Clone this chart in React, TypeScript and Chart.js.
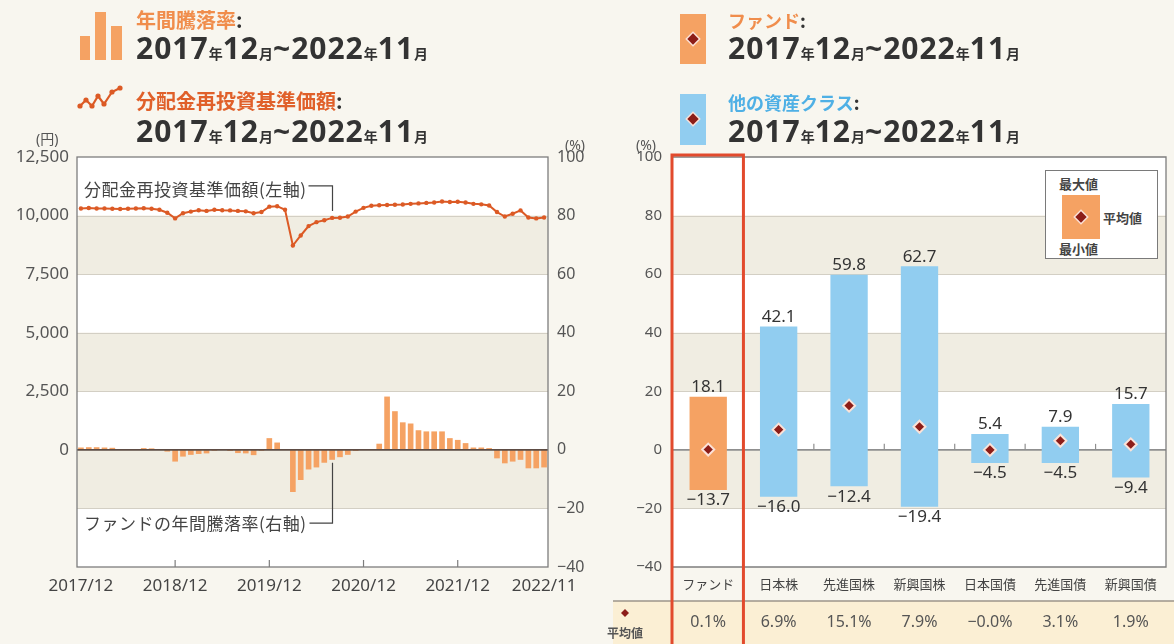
import React, { useEffect, useRef } from 'react';
import { Chart, registerables } from 'chart.js';
Chart.register(...registerables);

const FONT = "'Noto Sans', 'Noto Sans CJK JP', sans-serif";
const JP = "'Noto Sans CJK JP', 'Noto Sans', sans-serif";
const BG = '#f8f6ef';
const BEIGE = '#f0ede2';
const ORANGE = '#f5a263';
const BLUE = '#91cdf0';
const RED_LINE = '#dc5a25';

// ---------- left chart data ----------
const monthLabels: string[] = (() => {
  const out: string[] = [];
  let y = 2017, m = 12;
  for (let i = 0; i < 60; i++) {
    out.push(`${y}/${m}`);
    m++;
    if (m > 12) { m = 1; y++; }
  }
  return out;
})();
const xTickLabels = ['2017/12', '2018/12', '2019/12', '2020/12', '2021/12', '2022/11'];
const xTickMarks = ['2018/12', '2019/12', '2020/12', '2021/12'];

// 分配金再投資基準価額 (円)
const navValues = [
  10300, 10320, 10300, 10300, 10290, 10280, 10290, 10300, 10310, 10290,
  10250, 10120, 9880, 10100, 10170, 10230, 10200, 10250, 10230, 10220,
  10200, 10180, 10100, 10150, 10380, 10400, 10250, 8720, 9150, 9550,
  9720, 9800, 9900, 9910, 9960, 10170, 10330, 10420, 10440, 10450,
  10460, 10470, 10500, 10520, 10540, 10560, 10600, 10580, 10590, 10560,
  10500, 10480, 10430, 10150, 9960, 10080, 10220, 9920, 9880, 9920,
];
// 年間騰落率 (%)
const returnValues = [
  0.8, 0.9, 0.9, 0.8, 0.7, 0.1, 0.1, 0.2, 0.6, 0.5,
  0.1, -0.6, -4.0, -2.3, -1.7, -1.4, -1.2, -0.3, 0.1, -0.4,
  -1.1, -1.2, -1.8, -0.3, 4.0, 2.5, 0.3, -14.4, -10.3, -6.7,
  -6.0, -4.4, -3.4, -2.5, -1.7, -0.4, 0.1, 0.3, 2.1, 18.2,
  13.2, 9.4, 9.0, 6.7, 6.3, 6.3, 6.3, 4.0, 3.4, 2.3,
  0.8, 0.8, 0.6, -2.9, -4.6, -4.0, -3.4, -6.3, -6.3, -6.0,
];
const leftTickYen = { min: -5000, max: 12500, step: 2500 };
const pctTicks = { min: -40, max: 100, step: 20 };
const beigeBandTops = [80, 40, 0];

const navNote = '分配金再投資基準価額(左軸)';
const retNote = 'ファンドの年間騰落率(右軸)';
const noteIndex = 32;

// ---------- right chart data ----------
const assetClasses = ['ファンド', '日本株', '先進国株', '新興国株', '日本国債', '先進国債', '新興国債'];
const maxValues = [18.1, 42.1, 59.8, 62.7, 5.4, 7.9, 15.7];
const minValues = [-13.7, -16.0, -12.4, -19.4, -4.5, -4.5, -9.4];
const avgValues = [0.1, 6.9, 15.1, 7.9, -0.02, 3.1, 1.9];

const fmt1 = (v: number) => (v < 0 ? '−' : '') + Math.abs(v).toFixed(1);

function drawBands(ctx: CanvasRenderingContext2D, a: any, y: any) {
  for (let v = pctTicks.max; v > pctTicks.min; v -= pctTicks.step) {
    const top = y.getPixelForValue(v);
    const bot = y.getPixelForValue(v - pctTicks.step);
    ctx.fillStyle = beigeBandTops.includes(v) ? BEIGE : '#ffffff';
    ctx.fillRect(a.left, top, a.right - a.left, bot - top);
  }
  ctx.strokeStyle = '#d3cfc4';
  ctx.lineWidth = 1;
  for (let v = pctTicks.max - pctTicks.step; v > pctTicks.min; v -= pctTicks.step) {
    if (v === 0) continue;
    const p = Math.round(y.getPixelForValue(v)) + 0.5;
    ctx.beginPath();
    ctx.moveTo(a.left, p);
    ctx.lineTo(a.right, p);
    ctx.stroke();
  }
}

const leftPlugin = {
  id: 'leftDeco',
  beforeDatasetsDraw(chart: any) {
    const { ctx, chartArea: a, scales } = chart;
    ctx.save();
    drawBands(ctx, a, scales.yR);
    ctx.restore();
  },
  afterDatasetsDraw(chart: any) {
    const { ctx, chartArea: a, scales } = chart;
    const x = scales.x, yR = scales.yR, yL = scales.yL;
    ctx.save();
    // zero line
    const z = yR.getPixelForValue(0);
    ctx.strokeStyle = '#5d4c44';
    ctx.lineWidth = 1.6;
    ctx.beginPath();
    ctx.moveTo(a.left, z);
    ctx.lineTo(a.right, z);
    ctx.stroke();
    // frame
    ctx.strokeStyle = '#7d7d7d';
    ctx.lineWidth = 1.3;
    ctx.strokeRect(a.left, a.top, a.right - a.left, a.bottom - a.top);
    // bottom tick marks
    ctx.lineWidth = 1.2;
    xTickMarks.forEach((lab) => {
      const px = x.getPixelForValue(monthLabels.indexOf(lab));
      ctx.beginPath();
      ctx.moveTo(px, a.bottom);
      ctx.lineTo(px, a.bottom - 7);
      ctx.stroke();
    });
    // annotations
    const cx = Math.round(x.getPixelForValue(noteIndex)) + 0.5;
    ctx.font = `17px ${JP}`;
    (ctx as any).letterSpacing = '0.5px';
    ctx.fillStyle = '#444';
    ctx.textBaseline = 'middle';
    ctx.textAlign = 'left';
    ctx.strokeStyle = '#444';
    ctx.lineWidth = 1.2;
    const ty1 = yL.getPixelForValue(11100);
    ctx.fillText(navNote, a.left + 7, ty1);
    const w1 = ctx.measureText(navNote).width;
    ctx.beginPath();
    ctx.moveTo(a.left + 7 + w1 + 2, ty1 - 4);
    ctx.lineTo(cx, ty1 - 4);
    ctx.lineTo(cx, yL.getPixelForValue(navValues[noteIndex]) - 7);
    ctx.stroke();
    const ty2 = yR.getPixelForValue(-25);
    ctx.fillText(retNote, a.left + 7, ty2);
    const w2 = ctx.measureText(retNote).width;
    ctx.beginPath();
    ctx.moveTo(a.left + 7 + w2 + 3, ty2);
    ctx.lineTo(cx, ty2);
    ctx.lineTo(cx, yR.getPixelForValue(returnValues[noteIndex]) + 3);
    ctx.stroke();
    ctx.restore();
  },
};

const rightPlugin = {
  id: 'rightDeco',
  beforeDatasetsDraw(chart: any) {
    const { ctx, chartArea: a, scales } = chart;
    const y = scales.y, x = scales.x;
    ctx.save();
    drawBands(ctx, a, y);
    const z = y.getPixelForValue(0);
    ctx.strokeStyle = '#8f8f8f';
    ctx.lineWidth = 1.8;
    ctx.beginPath();
    ctx.moveTo(a.left, z);
    ctx.lineTo(a.right, z);
    ctx.stroke();
    // boundary ticks on the zero line
    const half = (x.getPixelForValue(1) - x.getPixelForValue(0)) / 2;
    ctx.lineWidth = 1.2;
    for (let i = 1; i < assetClasses.length; i++) {
      const px = x.getPixelForValue(i) - half;
      ctx.beginPath();
      ctx.moveTo(px, z);
      ctx.lineTo(px, z - 6);
      ctx.stroke();
    }
    // frame (top, right, bottom)
    ctx.strokeStyle = '#7d7d7d';
    ctx.lineWidth = 1.3;
    ctx.beginPath();
    ctx.moveTo(a.left, a.top);
    ctx.lineTo(a.right, a.top);
    ctx.lineTo(a.right, a.bottom);
    ctx.lineTo(a.left, a.bottom);
    ctx.stroke();
    ctx.restore();
  },
  afterDatasetsDraw(chart: any) {
    const { ctx, chartArea: a, scales, width, height } = chart;
    const y = scales.y, x = scales.x;
    ctx.save();
    // value labels
    ctx.font = `17px ${FONT}`;
    ctx.fillStyle = '#333';
    ctx.textAlign = 'center';
    assetClasses.forEach((_, i) => {
      const px = x.getPixelForValue(i);
      ctx.textBaseline = 'bottom';
      ctx.fillText(fmt1(maxValues[i]), px, y.getPixelForValue(maxValues[i]) - 1);
      ctx.textBaseline = 'top';
      ctx.fillText(fmt1(minValues[i]), px, y.getPixelForValue(minValues[i]) + 2);
    });
    // table row
    const sepY = 601;
    ctx.fillStyle = '#fbefd4';
    ctx.fillRect(13, sepY, width - 13, height - sepY);
    ctx.strokeStyle = '#9c958a';
    ctx.lineWidth = 1.3;
    ctx.beginPath();
    ctx.moveTo(13, sepY);
    ctx.lineTo(width, sepY);
    ctx.stroke();
    ctx.fillStyle = '#555';
    ctx.font = `16px ${FONT}`;
    ctx.textBaseline = 'middle';
    assetClasses.forEach((_, i) => {
      ctx.fillText(fmt1(avgValues[i]) + '%', x.getPixelForValue(i), 622);
    });
    // small diamond + label
    ctx.fillStyle = '#8c1d18';
    ctx.beginPath();
    ctx.moveTo(25, 609);
    ctx.lineTo(29, 613);
    ctx.lineTo(25, 617);
    ctx.lineTo(21, 613);
    ctx.closePath();
    ctx.fill();
    ctx.fillStyle = '#555';
    ctx.font = `bold 12px ${JP}`;
    ctx.fillText('平均値', 25, 633);
    // red highlight box
    const half = (x.getPixelForValue(1) - x.getPixelForValue(0)) / 2;
    ctx.strokeStyle = '#e24a2d';
    ctx.lineWidth = 3;
    ctx.strokeRect(a.left - 1, a.top - 2, x.getPixelForValue(0) + half - a.left + 1, height + 10);
    ctx.restore();
  },
};

function LeftChart() {
  const ref = useRef<HTMLCanvasElement>(null);
  useEffect(() => {
    const chart = new Chart(ref.current as HTMLCanvasElement, {
      type: 'bar',
      data: {
        labels: monthLabels,
        datasets: [
          {
            type: 'line', data: navValues, yAxisID: 'yL', borderColor: RED_LINE,
            backgroundColor: RED_LINE, borderWidth: 2, pointRadius: 2.2, pointBorderWidth: 0,
            pointBackgroundColor: RED_LINE, tension: 0, order: 0,
          } as any,
          {
            type: 'bar', data: returnValues, yAxisID: 'yR', backgroundColor: ORANGE,
            barPercentage: 0.72, categoryPercentage: 1, order: 1,
          } as any,
        ],
      },
      options: {
        responsive: false, animation: false, devicePixelRatio: 1,
        layout: { padding: { top: 157, left: 0, right: 0, bottom: 0 } },
        plugins: { legend: { display: false }, tooltip: { enabled: false } },
        scales: {
          x: {
            offset: true, grid: { display: false, drawTicks: false }, border: { display: false },
            ticks: {
              autoSkip: false, maxRotation: 0, padding: 9, color: '#444',
              font: { size: 17, family: FONT },
              callback: (_v: any, i: number) => (xTickLabels.includes(monthLabels[i]) ? monthLabels[i] : ''),
            },
            afterFit: (s: any) => { s.height = 77; },
          },
          yL: {
            position: 'left', min: leftTickYen.min, max: leftTickYen.max,
            grid: { display: false, drawTicks: false }, border: { display: false },
            ticks: {
              stepSize: leftTickYen.step, padding: 8, color: '#555', font: { size: 17, family: FONT },
              callback: (v: any) => (v < 0 ? '' : Number(v).toLocaleString('en-US')),
            },
            afterFit: (s: any) => { s.width = 77; },
          },
          yR: {
            position: 'right', min: pctTicks.min, max: pctTicks.max,
            grid: { display: false, drawTicks: false }, border: { display: false },
            ticks: {
              stepSize: pctTicks.step, padding: 9, color: '#555', font: { size: 16, family: FONT },
              callback: (v: any) => (v < 0 ? '−' + Math.abs(v) : String(v)),
            },
            afterFit: (s: any) => { s.width = 52; },
          },
        },
      } as any,
      plugins: [leftPlugin],
    });
    return () => chart.destroy();
  }, []);
  return <canvas ref={ref} width={600} height={644} style={{ position: 'absolute', left: 0, top: 0, width: 600, height: 644 }} />;
}

function RightChart() {
  const ref = useRef<HTMLCanvasElement>(null);
  useEffect(() => {
    const chart = new Chart(ref.current as HTMLCanvasElement, {
      type: 'bar',
      data: {
        labels: assetClasses,
        datasets: [
          {
            type: 'line', data: avgValues, showLine: false, pointStyle: 'rectRot', pointRadius: 6,
            pointBackgroundColor: '#8c1d18', pointBorderColor: '#fbe2d8', pointBorderWidth: 2, order: 0,
          } as any,
          {
            type: 'bar', data: assetClasses.map((_, i) => [minValues[i], maxValues[i]]),
            backgroundColor: assetClasses.map((_, i) => (i === 0 ? ORANGE : BLUE)),
            barPercentage: 0.53, categoryPercentage: 1, order: 1,
          } as any,
        ],
      },
      options: {
        responsive: false, animation: false, devicePixelRatio: 1,
        layout: { padding: { top: 157, left: 0, right: 2, bottom: 0 } },
        plugins: { legend: { display: false }, tooltip: { enabled: false } },
        scales: {
          x: {
            offset: true, grid: { display: false, drawTicks: false }, border: { display: false },
            ticks: { autoSkip: false, maxRotation: 0, padding: 9, color: '#444', font: { size: 13, family: JP } },
            afterFit: (s: any) => { s.height = 77; },
          },
          y: {
            position: 'left', min: pctTicks.min, max: pctTicks.max,
            grid: { display: false, drawTicks: false }, border: { display: false },
            ticks: {
              stepSize: pctTicks.step, padding: 11, color: '#555', font: { size: 15, family: FONT },
              callback: (v: any) => (v < 0 ? '−' + Math.abs(v) : String(v)),
            },
            afterFit: (s: any) => { s.width = 73; },
          },
        },
      } as any,
      plugins: [rightPlugin],
    });
    return () => chart.destroy();
  }, []);
  return <canvas ref={ref} width={574} height={644} style={{ position: 'absolute', left: 600, top: 0, width: 574, height: 644 }} />;
}

const periodParts: [string, boolean][] = [
  ['2017', true], ['年', false], ['12', true], ['月', false], ['~2022', true], ['年', false], ['11', true], ['月', false],
];

function DateLine({ left, top }: { left: number; top: number }) {
  return (
    <div style={{ position: 'absolute', left, top, fontFamily: FONT, fontWeight: 700, color: '#333', whiteSpace: 'nowrap', lineHeight: 1 }}>
      {periodParts.map(([t, big], i) => (
        <span key={i} style={{ fontSize: big ? 30 : 14, fontFamily: big ? FONT : JP, letterSpacing: big ? 1 : 0 }}>{t}</span>
      ))}
    </div>
  );
}

function Title({ left, top, color, text, size }: { left: number; top: number; color: string; text: string; size: number }) {
  return (
    <div style={{ position: 'absolute', left, top, fontFamily: JP, fontWeight: 700, fontSize: size, color, lineHeight: 1, whiteSpace: 'nowrap' }}>
      {text}<span style={{ color: '#333' }}>:</span>
    </div>
  );
}

function Diamond({ cx, cy, size }: { cx: number; cy: number; size: number }) {
  return (
    <div style={{
      position: 'absolute', left: cx - size / 2, top: cy - size / 2, width: size, height: size,
      background: '#8c1d18', transform: 'rotate(45deg)', boxShadow: '0 0 0 1.5px #fbe2d8',
    }} />
  );
}

export default function App() {
  const small = { position: 'absolute' as const, fontFamily: FONT, fontSize: 14, color: '#555', lineHeight: 1 };
  const legendText = { position: 'absolute' as const, fontFamily: JP, fontWeight: 700, fontSize: 13, color: '#444', lineHeight: 1 };
  return (
    <div style={{ position: 'absolute', left: 0, top: 0, width: 1174, height: 644, background: BG, overflow: 'hidden' }}>
      <LeftChart />
      <RightChart />
      {/* left header */}
      <div style={{ position: 'absolute', left: 80, top: 36, width: 10, height: 24, background: ORANGE }} />
      <div style={{ position: 'absolute', left: 95, top: 12, width: 11, height: 48, background: ORANGE }} />
      <div style={{ position: 'absolute', left: 111, top: 26, width: 11, height: 34, background: ORANGE }} />
      <Title left={136} top={10} size={20} color="#f08d4c" text="年間騰落率" />
      <DateLine left={136} top={33} />
      <svg style={{ position: 'absolute', left: 74, top: 84 }} width={52} height={32}>
        <polyline points="6,22 12,16 18,22 24,12 30,20 38,8 46,4" fill="none" stroke={RED_LINE} strokeWidth={2.2} />
        {[[6, 22], [12, 16], [18, 22], [24, 12], [30, 20], [38, 8], [46, 4]].map(([px, py], i) => (
          <circle key={i} cx={px} cy={py} r={2.6} fill={RED_LINE} />
        ))}
      </svg>
      <Title left={136} top={91} size={20} color="#e0602a" text="分配金再投資基準価額" />
      <DateLine left={136} top={116} />
      <div style={{ ...small, left: 36, top: 132 }}>(円)</div>
      <div style={{ ...small, left: 565, top: 138 }}>(%)</div>
      {/* right header */}
      <div style={{ position: 'absolute', left: 680, top: 14, width: 26, height: 50, background: ORANGE }} />
      <Diamond cx={693} cy={39} size={8} />
      <Title left={728} top={11} size={18} color="#f08d4c" text="ファンド" />
      <DateLine left={728} top={33} />
      <div style={{ position: 'absolute', left: 680, top: 94, width: 26, height: 51, background: BLUE }} />
      <Diamond cx={693} cy={119} size={8} />
      <Title left={728} top={93} size={18} color="#4fb0e5" text="他の資産クラス" />
      <DateLine left={728} top={116} />
      <div style={{ ...small, left: 636, top: 138 }}>(%)</div>
      {/* legend box */}
      <div style={{ position: 'absolute', left: 1045, top: 170, width: 111, height: 87, border: '1.5px solid #7a7a7a', background: '#fff' }}>
        <div style={{ ...legendText, left: 13, top: 6 }}>最大値</div>
        <div style={{ position: 'absolute', left: 16, top: 24, width: 38, height: 44, background: ORANGE }} />
        <div style={{ ...legendText, left: 57, top: 40 }}>平均値</div>
        <div style={{ ...legendText, left: 13, top: 71 }}>最小値</div>
      </div>
      <Diamond cx={1081} cy={217} size={8} />
    </div>
  );
}
